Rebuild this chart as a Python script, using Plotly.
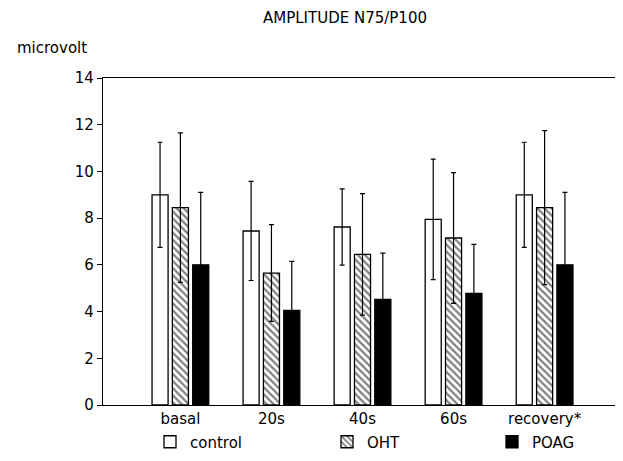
import plotly.graph_objects as go

categories = ["basal", "20s", "40s", "60s", "recovery*"]
control_mean = [9.0, 7.45, 7.62, 7.95, 9.0]
control_sd = [2.25, 2.12, 1.63, 2.58, 2.25]
oht_mean = [8.45, 5.65, 6.45, 7.15, 8.45]
oht_sd = [3.2, 2.07, 2.6, 2.8, 3.3]
poag_mean = [6.0, 4.05, 4.52, 4.78, 6.0]
poag_sd = [3.1, 2.1, 1.98, 2.1, 3.1]
y_ticks = [0, 2, 4, 6, 8, 10, 12, 14]

FONT = "DejaVu Sans"
FS = 15
err = dict(type="data", thickness=1.2, width=2.5, color="black")

# the page has an 8px body margin; the figure is sized to fill the rest of the window
OFF = 8
W, H = 623 - OFF, 461 - OFF
PL, PR, PT, PB = 103, 622, 78, 405  # plot area in window pixels
PW, PH = PR - PL, PB - PT


def px_x(x):
    return (x - PL) / PW


def px_y(y):
    return (PB - y) / PH


fig = go.Figure()
fig.add_trace(go.Bar(
    x=categories, y=control_mean, name="control", legend="legend",
    error_y=dict(array=control_sd, **err),
    marker=dict(color="white", line=dict(color="black", width=1.3)),
))
fig.add_trace(go.Bar(
    x=categories, y=oht_mean, name="OHT", legend="legend2",
    error_y=dict(array=oht_sd, **err),
    marker=dict(color="white", line=dict(color="black", width=1.3),
                pattern=dict(shape="\\", fgcolor="black", bgcolor="white",
                             size=5, solidity=0.45)),
))
fig.add_trace(go.Bar(
    x=categories, y=poag_mean, name="POAG", legend="legend3",
    error_y=dict(array=poag_sd, **err),
    marker=dict(color="black", line=dict(color="black", width=1.3)),
))

leg = dict(orientation="h", yanchor="middle", y=px_y(442), xanchor="left",
           bgcolor="rgba(0,0,0,0)", font=dict(family=FONT, size=FS, color="black"))

fig.update_layout(
    width=W, height=H,
    margin=dict(l=PL - OFF, r=623 - PR, t=PT - OFF, b=461 - PB, pad=0),
    paper_bgcolor="white", plot_bgcolor="white",
    barmode="group", bargap=0.33, bargroupgap=0.21,
    font=dict(family=FONT, size=FS, color="black"),
    showlegend=True,
    legend=dict(x=px_x(150), **leg),
    legend2=dict(x=px_x(327), **leg),
    legend3=dict(x=px_x(492), **leg),
    xaxis=dict(range=[-0.85, 4.85], showline=True, linecolor="black", linewidth=1.3,
               mirror=True, ticks="", showgrid=False, zeroline=False,
               tickfont=dict(family=FONT, size=FS)),
    yaxis=dict(range=[0, 14], tickvals=y_ticks, showline=True, linecolor="black",
               linewidth=1.3, mirror=True, ticks="outside", ticklen=5, tickwidth=1.2,
               tickcolor="black", showgrid=False, zeroline=False,
               tickfont=dict(family=FONT, size=FS)),
    annotations=[
        dict(text="AMPLITUDE N75/P100", xref="paper", yref="paper",
             x=px_x(345), y=px_y(18), xanchor="center", yanchor="middle",
             showarrow=False, font=dict(family=FONT, size=FS)),
        dict(text="microvolt", xref="paper", yref="paper",
             x=px_x(15), y=px_y(48), xanchor="left", yanchor="middle",
             showarrow=False, font=dict(family=FONT, size=FS)),
    ],
)

fig.write_html("out.html", config={"displayModeBar": False})
